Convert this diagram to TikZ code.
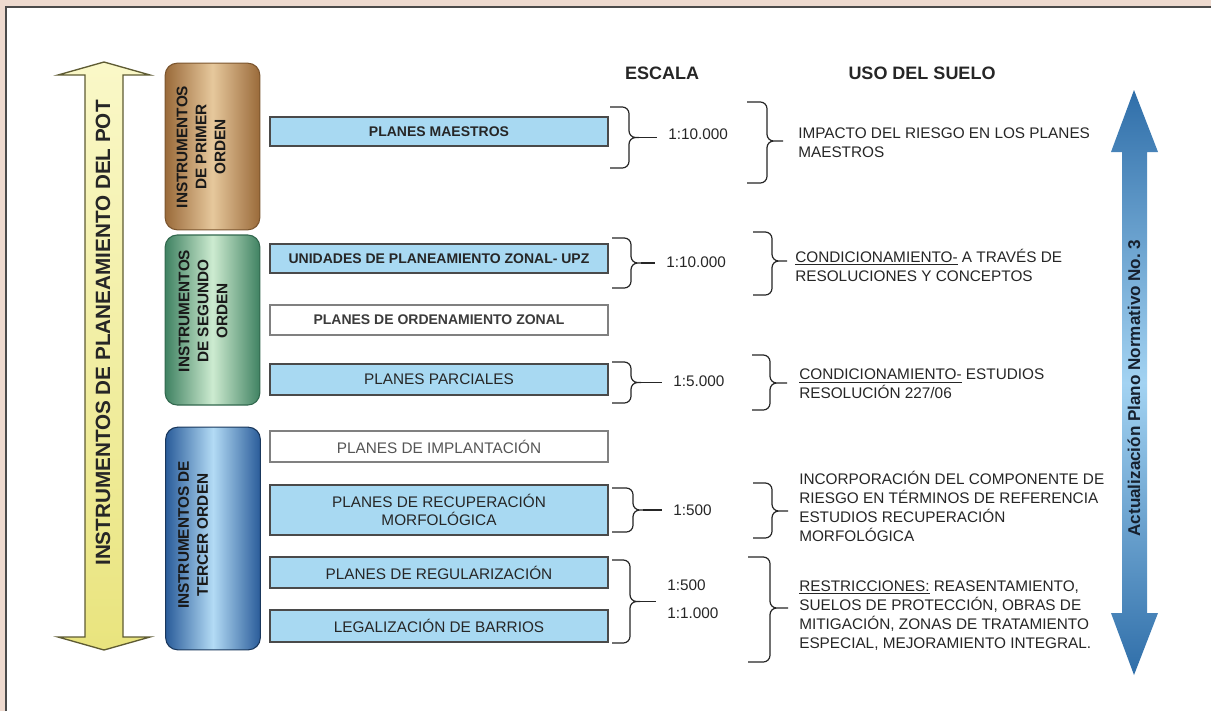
\documentclass[tikz,border=0pt]{standalone}
\usepackage{fontspec}
\setmainfont{Liberation Sans}
\usetikzlibrary{calc}

\definecolor{fondo}{HTML}{EEDACF}
\definecolor{marco}{HTML}{4A4A4A}
\definecolor{texto}{HTML}{262626}
\definecolor{gristxt}{HTML}{555555}
\definecolor{celeste}{HTML}{A8D9F2}
\definecolor{cafeosc}{HTML}{9A6A3A}
\definecolor{cafecla}{HTML}{E6C89C}
\definecolor{verdeosc}{HTML}{3F8262}
\definecolor{verdecla}{HTML}{CDEBD0}
\definecolor{azulosc}{HTML}{2A5C9A}
\definecolor{azulcla}{HTML}{B3DBF5}
\definecolor{amarilloa}{HTML}{FAF8C8}
\definecolor{amarillob}{HTML}{E9E47E}
\definecolor{amarillobd}{HTML}{5E5B33}
\definecolor{flecha}{HTML}{2F6EA9}
\definecolor{flechacla}{HTML}{A3D3F2}
\definecolor{navy}{HTML}{16202E}

\begin{document}
\begin{tikzpicture}[x=0.75pt, y=-0.75pt,
    barra/.style={draw=marco, line width=0.9pt, fill=celeste, minimum width=253.5pt,
        minimum height=23pt, inner sep=0pt, align=center, text=texto,
        font=\fontsize{11.5}{13}\selectfont},
    barrablanca/.style={barra, fill=white, draw=marco!70},
    negrita/.style={font=\bfseries\fontsize{10.5}{13}\selectfont},
    orden/.style={rounded corners=9pt, line width=0.8pt, minimum width=71pt, inner sep=0pt},
    ordentxt/.style={rotate=90, align=center, inner sep=0pt, text=black!90,
        font=\bfseries\fontsize{11.5}{14.25}\selectfont},
    titulo/.style={inner sep=0pt, text=texto, font=\bfseries\fontsize{13.5}{16}\selectfont},
    escala/.style={anchor=west, inner sep=0pt, align=left, text=texto,
        font=\fontsize{11.5}{21}\selectfont},
    uso/.style={anchor=west, inner sep=0pt, align=left, text=texto,
        font=\fontsize{11.5}{14.25}\selectfont},
    llave/.style={draw=texto, line width=0.9pt, rounded corners=5pt},
    cola/.style={draw=texto, line width=0.9pt, shorten >=8pt}]

    % Page and frame
    \useasboundingbox (0,0) rectangle (1211,711);
    \fill[fondo] (0,0) rectangle (1211,711);
    \fill[white] (6,7) rectangle (1211,711);
    \draw[marco, line width=1.5pt] (6,711) -- (6,7) -- (1211,7);

    % Left double arrow
    \shadedraw[top color=amarilloa, bottom color=amarillob, draw=amarillobd, line width=1pt]
        (104,62) -- (150,75) -- (123,75) -- (123,637) -- (150,637) -- (104,650)
        -- (58,637) -- (85,637) -- (85,75) -- (58,75) -- cycle;
    \node[rotate=90, inner sep=0pt, text=texto, font=\bfseries\fontsize{15.5}{18}\selectfont]
        (pot) at (103,333) {INSTRUMENTOS DE PLANEAMIENTO DEL POT};

    % Instrument orders
    \node[orden, minimum height=125pt, left color=cafeosc, right color=cafeosc,
        middle color=cafecla, draw=cafeosc!80!black] (primer) at (212.5,146.5) {};
    \node[orden, minimum height=127.5pt, left color=verdeosc, right color=verdeosc,
        middle color=verdecla, draw=verdeosc!80!black] (segundo) at (212.5,320) {};
    \node[orden, minimum height=167pt, left color=azulosc, right color=azulosc,
        middle color=azulcla, draw=azulosc!60!black] (tercer) at (213,538.5) {};
    \node[ordentxt] (primertxt) at (201,147) {INSTRUMENTOS\\DE PRIMER\\ORDEN};
    \node[ordentxt] (segundotxt) at (203,311) {INSTRUMENTOS\\DE SEGUNDO\\ORDEN};
    \node[ordentxt] (tercertxt) at (193,535) {INSTRUMENTOS DE\\TERCER ORDEN};

    % Plans
    \node[barra, negrita, minimum height=21.75pt] (maestros) at (439,131.5) {PLANES MAESTROS};
    \node[barra, negrita, minimum height=21.75pt] (upz) at (439,258.5) {UNIDADES DE PLANEAMIENTO ZONAL- UPZ};
    \node[barrablanca, negrita, text=gristxt!70!black, minimum height=22.5pt] (zonal) at (439,320) {PLANES DE ORDENAMIENTO ZONAL};
    \node[barra, minimum height=23.25pt] (parciales) at (439,379.5) {PLANES PARCIALES};
    \node[barrablanca, text=gristxt, minimum height=23.25pt] (implantacion) at (439,446.5) {PLANES DE IMPLANTACIÓN};
    \node[barra, minimum height=37.5pt] (recuperacion) at (439,510) {PLANES DE RECUPERACIÓN\\MORFOLÓGICA};
    \node[barra, minimum height=23.25pt] (regularizacion) at (439,572.5) {PLANES DE REGULARIZACIÓN};
    \node[barra, minimum height=24pt] (legalizacion) at (439,626) {LEGALIZACIÓN DE BARRIOS};

    % Headers
    \node[titulo] (hescala) at (662,73) {ESCALA};
    \node[titulo] (huso) at (922,73) {USO DEL SUELO};

    % Scales
    \node[escala] (e1) at (668,134) {1:10.000};
    \node[escala] (e2) at (666,262) {1:10.000};
    \node[escala] (e3) at (673,381) {1:5.000};
    \node[escala] (e4) at (673,510) {1:500};
    \node[escala] (e5) at (667,599) {1:500\\1:1.000};

    \draw[llave] (610,107) -- (629,107) -- (629,137.5) -- (639,137.5) (610,168) -- (629,168) -- (629,137.5) -- (639,137.5);
    \draw[llave] (612,238) -- (631,238) -- (631,263) -- (641,263) (612,288) -- (631,288) -- (631,263) -- (641,263);
    \draw[llave] (612,362) -- (631,362) -- (631,382.5) -- (641,382.5) (612,403) -- (631,403) -- (631,382.5) -- (641,382.5);
    \draw[llave] (612,488) -- (633,488) -- (633,510) -- (643,510) (612,532) -- (633,532) -- (633,510) -- (643,510);
    \draw[llave] (612,560) -- (630,560) -- (630,601.5) -- (640,601.5) (612,643) -- (630,643) -- (630,601.5) -- (640,601.5);
    \coordinate (t1) at (639,137.5);
    \coordinate (t2) at (641,263);
    \coordinate (t3) at (641,382.5);
    \coordinate (t4) at (643,510);
    \coordinate (t5) at (640,601.5);
    \draw[cola] (t1) -- (t1 -| e1.west);
    \draw[cola] (t2) -- (t2 -| e2.west);
    \draw[cola] (t3) -- (t3 -| e3.west);
    \draw[cola] (t4) -- (t4 -| e4.west);
    \draw[cola] (t5) -- (t5 -| e5.west);

    % Land use
    \draw[llave] (747,102) -- (767,102) -- (767,141) -- (783,141) (747,183) -- (767,183) -- (767,141) -- (783,141);
    \draw[llave] (753,232) -- (772,232) -- (772,261) -- (787,261) (753,295) -- (772,295) -- (772,261) -- (787,261);
    \draw[llave] (752,355) -- (770,355) -- (770,383) -- (787,383) (752,410) -- (770,410) -- (770,383) -- (787,383);
    \draw[llave] (753,483) -- (772,483) -- (772,511) -- (788,511) (753,538) -- (772,538) -- (772,511) -- (788,511);
    \draw[llave] (748,557) -- (770,557) -- (770,608) -- (788,608) (748,662) -- (770,662) -- (770,608) -- (788,608);

    \node[uso] (impacto) at (798,142.5) {IMPACTO DEL RIESGO EN LOS PLANES\\MAESTROS};
    \node[uso] (resoluciones) at (795,265.5) {\underline{CONDICIONAMIENTO-} A TRAVÉS DE\\RESOLUCIONES Y CONCEPTOS};
    \node[uso] (estudios) at (799,384) {\underline{CONDICIONAMIENTO-} ESTUDIOS\\RESOLUCIÓN 227/06};
    \node[uso] (incorporacion) at (799,506) {INCORPORACIÓN DEL COMPONENTE DE\\RIESGO EN TÉRMINOS DE REFERENCIA\\ESTUDIOS RECUPERACIÓN\\MORFOLÓGICA};
    \node[uso] (restricciones) at (799,615.5) {\underline{RESTRICCIONES:} REASENTAMIENTO,\\SUELOS DE PROTECCIÓN, OBRAS DE\\MITIGACIÓN, ZONAS DE TRATAMIENTO\\ESPECIAL, MEJORAMIENTO INTEGRAL.};

    % Right double arrow
    \shade[top color=flecha, bottom color=flecha, middle color=flechacla]
        (1134,90) -- (1158,152) -- (1147,152) -- (1147,613) -- (1158,613) -- (1134,675)
        -- (1111,613) -- (1122,613) -- (1122,152) -- (1111,152) -- cycle;
    \node[rotate=90, inner sep=0pt, text=navy, font=\bfseries\fontsize{12.8}{15}\selectfont]
        (actualizacion) at (1134,388) {Actualización Plano Normativo No.~3};
\end{tikzpicture}
\end{document}
